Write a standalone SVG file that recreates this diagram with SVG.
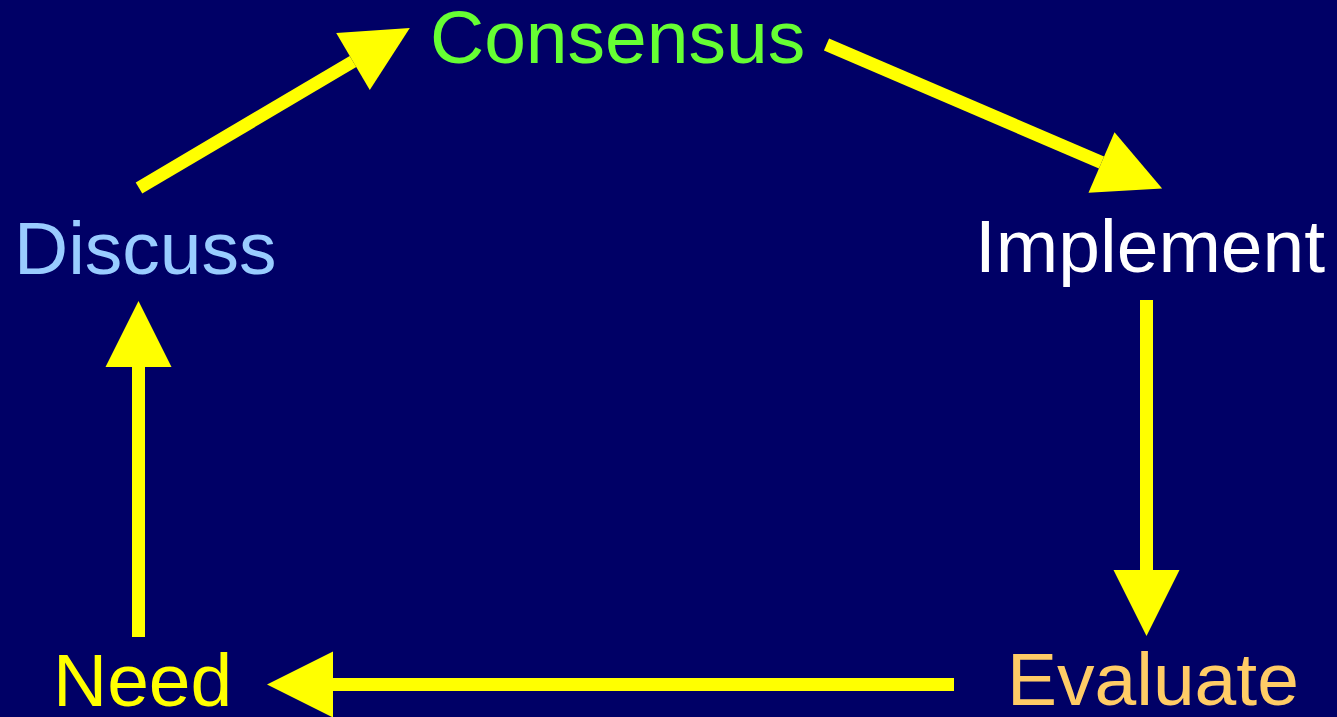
<svg xmlns="http://www.w3.org/2000/svg" width="1337" height="717" viewBox="0 0 1337 717">
<style>
.lbl{font-family:"Liberation Sans",Arial,sans-serif;font-size:75px}
.conn{stroke:#FFFF00;stroke-width:13;fill:none;marker-end:url(#ah)}
</style>
<defs>
<marker id="ah" markerUnits="userSpaceOnUse" markerWidth="66" markerHeight="66" refX="0" refY="33" orient="auto" overflow="visible">
<path d="M0,0 L66,33 L0,66 Z" fill="#FFFF00"/>
</marker>
</defs>
<rect width="1337" height="717" fill="#000066"/>
<g id="connectors">
<line class="conn" x1="139" y1="188" x2="353" y2="61.5"/>
<line class="conn" x1="826.5" y1="44.5" x2="1101.5" y2="162.5"/>
<line class="conn" x1="1146.5" y1="300" x2="1146.5" y2="570"/>
<line class="conn" x1="954" y1="684.5" x2="333" y2="684.5"/>
<line class="conn" x1="138.5" y1="637" x2="138.5" y2="367"/>
</g>
<g id="consensus"><text class="lbl" x="430" y="63" fill="#66FF33">Consensus</text></g>
<g id="implement"><text class="lbl" x="975" y="272" fill="#FFFFFF">Implement</text></g>
<g id="evaluate"><text class="lbl" x="1007" y="705" fill="#FFCC66">Evaluate</text></g>
<g id="need"><text class="lbl" x="53" y="706" fill="#FFFF00">Need</text></g>
<g id="discuss"><text class="lbl" x="14" y="274" fill="#99CCFF">Discuss</text></g>
</svg>
